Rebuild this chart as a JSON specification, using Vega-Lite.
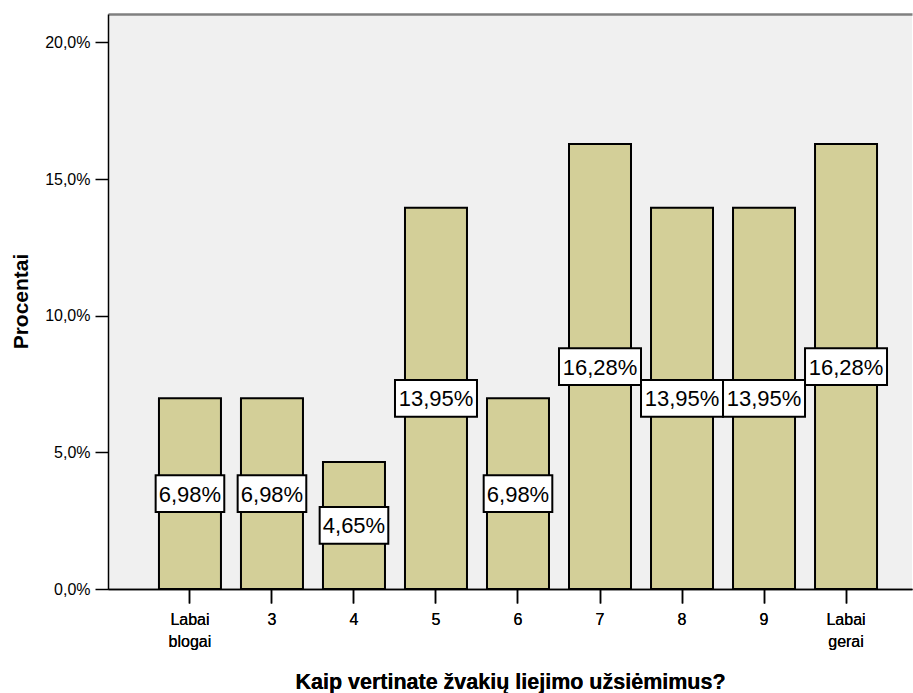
{
  "$schema": "https://vega.github.io/schema/vega-lite/v6.json",
  "width": 804,
  "height": 575,
  "autosize": {"type": "none"},
  "padding": {"left": 108, "top": 14, "right": 1, "bottom": 104},
  "background": "#ffffff",
  "config": {
    "locale": {"number": {"decimal": ",", "thousands": " ", "grouping": [3], "currency": ["", " €"]}},
    "view": {"fill": "#F0F0F0", "stroke": null},
    "font": "Liberation Sans",
    "axis": {"labelFont": "Liberation Sans", "titleFont": "Liberation Sans", "grid": false}
  },
  "data": {
    "values": [
      {"cat": "Labai blogai", "pct": 0.069767},
      {"cat": "3", "pct": 0.069767},
      {"cat": "4", "pct": 0.046512},
      {"cat": "5", "pct": 0.139535},
      {"cat": "6", "pct": 0.069767},
      {"cat": "7", "pct": 0.162791},
      {"cat": "8", "pct": 0.139535},
      {"cat": "9", "pct": 0.139535},
      {"cat": "Labai gerai", "pct": 0.162791}
    ]
  },
  "transform": [{"calculate": "datum.pct / 2", "as": "mid"}],
  "encoding": {
    "x": {
      "field": "cat",
      "type": "nominal",
      "sort": null,
      "scale": {"paddingInner": 0.244, "paddingOuter": 0.524, "align": 0.593},
      "axis": {
        "title": "Kaip vertinate žvakių liejimo užsiėmimus?",
        "titleFontSize": 21.5,
        "titleFontWeight": "bold",
        "titleColor": "#000000",
        "titleY": 99,
        "titleBaseline": "alphabetic",
        "labelAngle": 0,
        "labelFontSize": 16,
        "labelColor": "#000000",
        "labelLineHeight": 22,
        "labelBaseline": "top",
        "labelPadding": 8,
        "labelExpr": "split(datum.label, ' ')",
        "tickSize": 14,
        "tickColor": "#000000",
        "tickWidth": 1.5,
        "domainColor": "#000000",
        "domainWidth": 1.5
      }
    }
  },
  "layer": [
    {
      "mark": {"type": "bar", "fill": "#D3CF98", "stroke": "#000000", "strokeWidth": 2},
      "encoding": {
        "y": {
          "field": "pct",
          "type": "quantitative",
          "scale": {"domain": [0, 0.2104], "nice": false, "zero": true},
          "axis": {
            "title": "Procentai",
            "titleFontSize": 21,
            "titleFontWeight": "bold",
            "titleColor": "#000000",
            "titleAngle": -90,
            "titleX": -81,
            "titleY": 287,
            "titleAlign": "center",
            "titleBaseline": "alphabetic",
            "values": [0, 0.05, 0.1, 0.15, 0.2],
            "format": ".1%",
            "labelFontSize": 16,
            "labelColor": "#000000",
            "labelPadding": 5,
            "tickSize": 13,
            "tickColor": "#000000",
            "tickWidth": 1.5,
            "domainColor": "#000000",
            "domainWidth": 1.5
          }
        }
      }
    },
    {
      "mark": {"type": "point", "filled": true, "fill": "#ffffff", "stroke": "#000000", "strokeWidth": 2, "opacity": 1, "size": 6724},
      "encoding": {
        "x": {"field": "cat", "type": "nominal", "sort": null, "axis": {"orient": "top", "title": null, "labels": false, "ticks": false, "domainColor": "#808080", "domainWidth": 2.5}},
        "y": {"field": "mid", "type": "quantitative"},
        "shape": {
          "condition": {"test": "datum.pct >= 0.1", "value": "M-1,-0.447L1,-0.447L1,0.447L-1,0.447Z"},
          "value": "M-0.837,-0.447L0.837,-0.447L0.837,0.447L-0.837,0.447Z"
        }
      }
    },
    {
      "mark": {"type": "text", "fontSize": 22, "color": "#000000", "baseline": "middle", "align": "center", "dy": 1},
      "encoding": {
        "y": {"field": "mid", "type": "quantitative"},
        "text": {"field": "pct", "type": "quantitative", "format": ".2%"}
      }
    }
  ],
  "resolve": {"axis": {"x": "independent"}}
}
